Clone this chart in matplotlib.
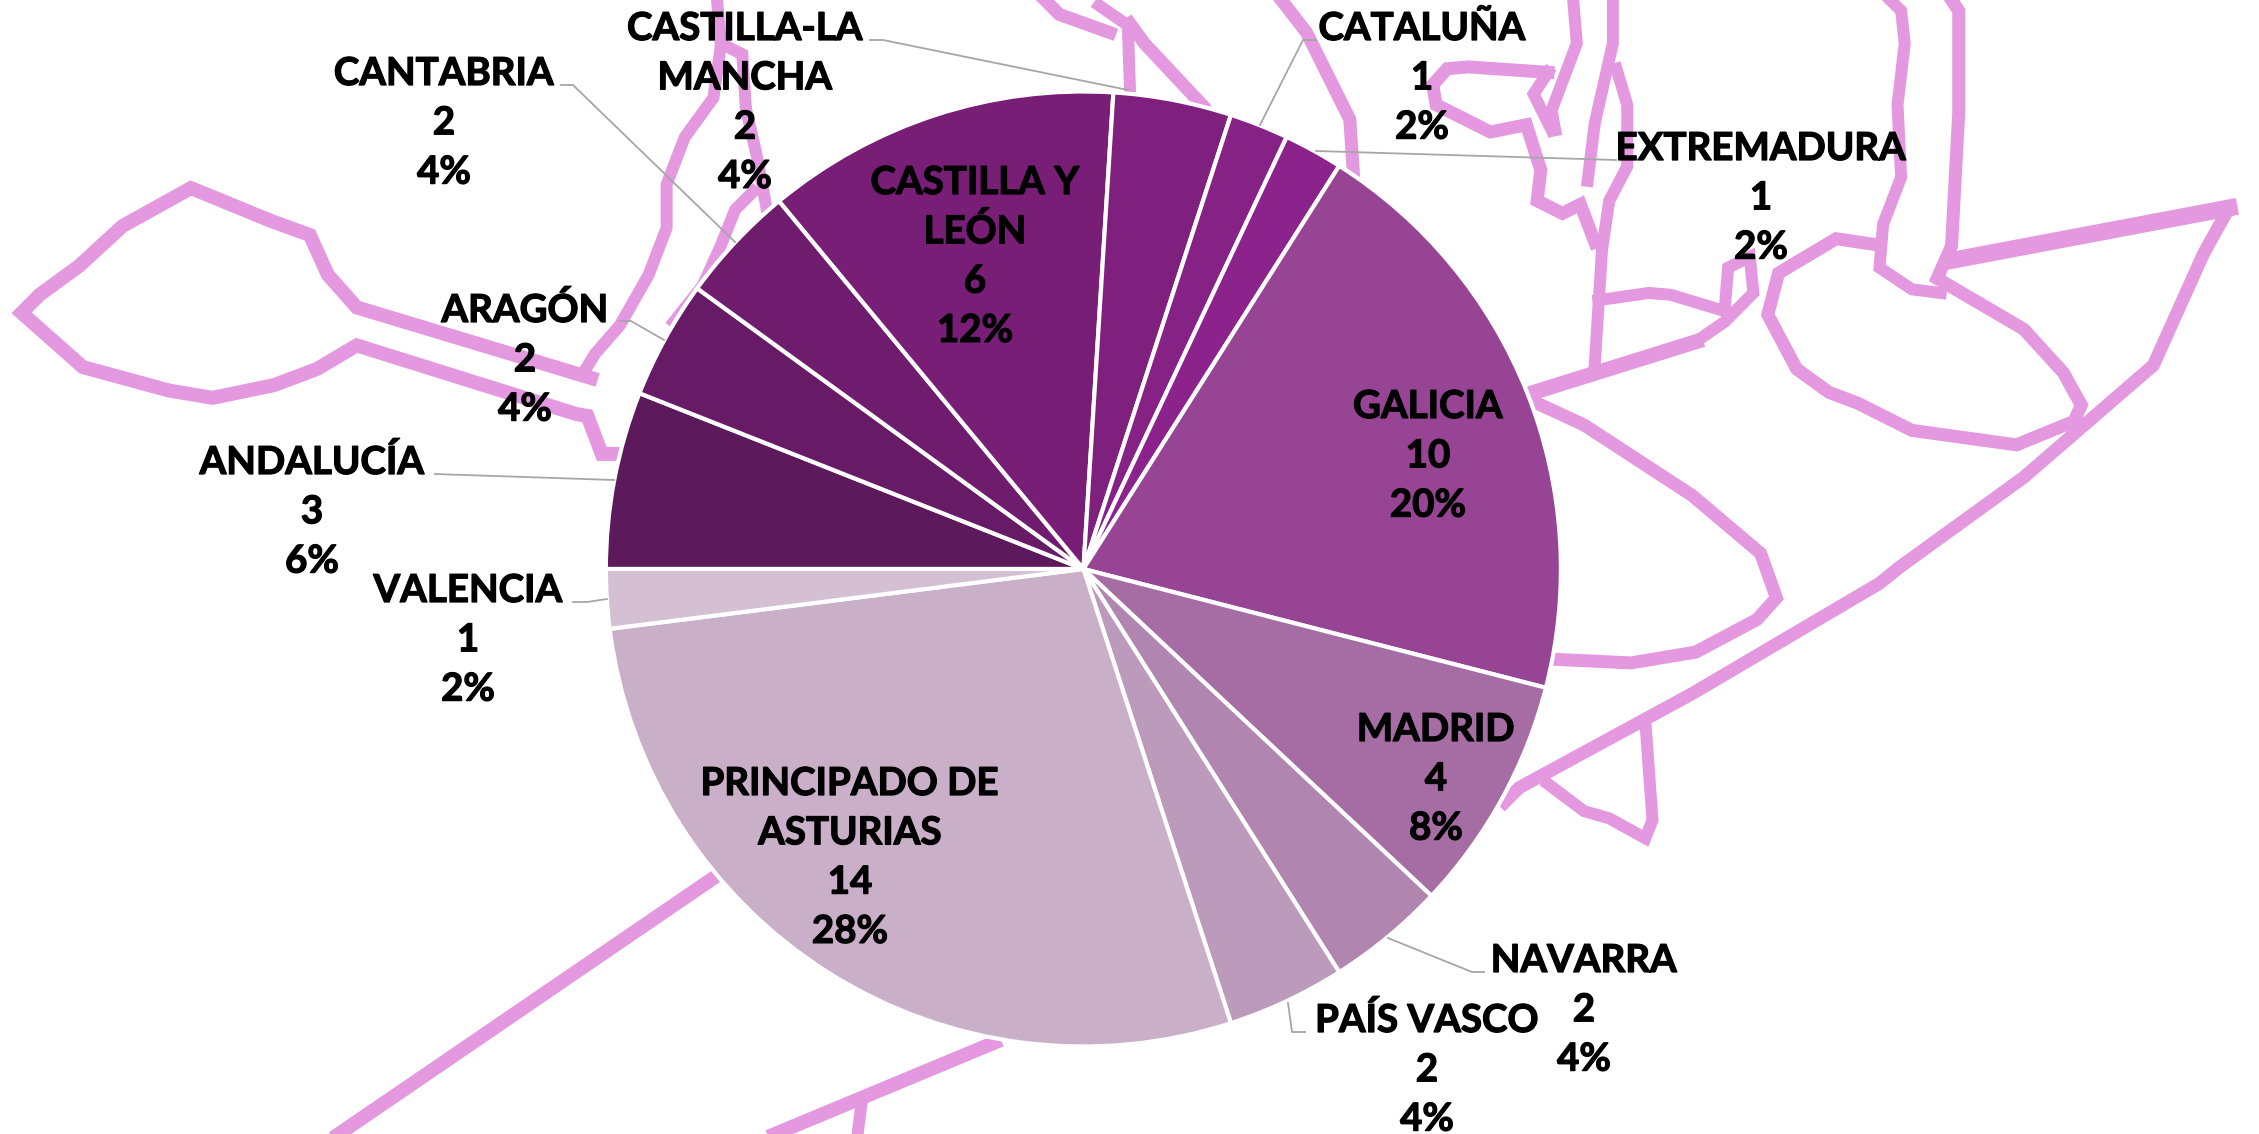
import matplotlib
from matplotlib import patheffects
from matplotlib import pyplot as plt

matplotlib.use('Agg')

W, H = 2259, 1134

# Chart data
regions = [['ANDALUCÍA'], ['ARAGÓN'], ['CANTABRIA'], ['CASTILLA Y', 'LEÓN'],
           ['CASTILLA-LA', 'MANCHA'], ['CATALUÑA'], ['EXTREMADURA'], ['GALICIA'],
           ['MADRID'], ['NAVARRA'], ['PAÍS VASCO'], ['PRINCIPADO DE', 'ASTURIAS'],
           ['VALENCIA']]
counts = [3, 2, 2, 6, 2, 1, 1, 10, 4, 2, 2, 14, 1]
colors = ['#5C195B', '#671A66', '#6F1C6E', '#781E77', '#7F1F7E', '#862186', '#8C238C',
          '#974495', '#A66DA4', '#B085AF', '#BC9ABB', '#C9AFC8', '#D4BFD3']

# Label anchors: centre x, first baseline (image pixels)
label_pos = [(312, 474), (525, 322), (444, 85), (975, 194), (745, 40), (1422, 40), (1761, 160),
             (1428, 418), (1436, 741), (1584, 972), (1427, 1032), (850, 795), (468, 602)]
line_step = 49.3

# Leader lines (image pixels)
leaders = [[(435, 474), (614, 480)],
           [(620, 321), (631, 321), (664, 340)],
           [(561, 85), (573, 85), (735, 242)],
           [(870, 40), (883, 40), (1128, 90)],
           [(1316, 40), (1303, 40), (1260, 125)],
           [(1616, 160), (1316, 151)],
           [(1484, 972), (1472, 972), (1388, 938)],
           [(1305, 1032), (1292, 1032), (1288, 1003)],
           [(573, 602), (587, 602), (607, 599)]]

# Background map outline, in zoomed crop coordinates: (x0, y0, width, points)
map_paths = [
    (0, 0, 14, [(820, 1045), (495, 850), (455, 760), (430, 650), (375, 610), (265, 520), (170, 625),
                (110, 735), (55, 815), (30, 865), (115, 1015), (235, 1080), (295, 1100), (380, 1065),
                (440, 1020), (495, 955), (800, 1145), (815, 1150), (835, 1255), (870, 1255)]),
    (0, 0, 12, [(995, 0), (1000, 120), (1030, 150), (1035, 300), (1050, 430), (1065, 590)]),
    (0, 0, 12, [(1000, 130), (990, 270), (950, 380), (925, 510), (925, 630), (900, 760), (860, 900),
                (825, 980), (810, 1030)]),
    (0, 0, 12, [(1045, 530), (1020, 580), (1000, 680), (975, 790), (935, 890)]),
    (0, 0, 13, [(1450, 0), (1470, 40), (1540, 90)]),
    (0, 0, 12, [(1525, 15), (1565, 70), (1568, 250)]),
    (1130, 0, 13, [(0, 65), (20, 120), (100, 290)]),
    (1130, 0, 13, [(210, 0), (245, 90), (305, 330), (310, 480)]),
    (1130, 0, 12, [(615, 0), (620, 120), (585, 305), (590, 360)]),
    (1130, 0, 13, [(580, 200), (470, 185), (440, 190), (420, 235), (425, 290), (500, 365), (550, 345),
                   (570, 470), (565, 555), (600, 590), (625, 565), (645, 670)]),
    (1130, 0, 12, [(580, 200), (560, 260), (585, 360)]),
    (1130, 0, 12, [(670, 0), (670, 120), (645, 340), (635, 500)]),
    (1130, 0, 12, [(675, 190), (690, 290), (690, 460), (665, 555), (655, 690), (645, 1005)]),
    (1130, 0, 12, [(650, 830), (720, 810), (750, 815), (825, 860), (830, 740), (860, 710), (865, 810),
                   (825, 890), (785, 945)]),
    (1130, 0, 15, [(785, 945), (560, 1085)]),
    (1130, 0, 13, [(565, 1115), (630, 1175), (780, 1370), (875, 1530), (897, 1653), (870, 1713),
                   (785, 1803), (695, 1833), (590, 1823)]),
    (1130, 0, 12, [(1055, 0), (1070, 30), (1075, 120), (1065, 290), (1070, 490), (1045, 620), (1040, 740),
                   (1085, 800), (1125, 810)]),
    (1130, 0, 13, [(1140, 0), (1150, 30), (1150, 310), (1140, 680), (1120, 770), (1240, 910), (1295, 1030),
                   (1320, 1120), (1310, 1165), (1230, 1230), (1085, 1190), (1010, 1115), (970, 1085),
                   (925, 1020), (885, 870), (900, 755), (980, 660), (1030, 675)]),
    (1130, 0, 17, [(1140, 720), (1525, 575)]),
    (1130, 0, 13, [(1525, 575), (1490, 700), (1420, 1010), (1240, 1320), (1068, 1568), (1040, 1613),
                   (780, 1918), (540, 2178), (520, 2218)]),
    (1130, 567, 12, [(715, 425), (725, 700), (715, 750), (665, 695), (630, 675), (580, 600)]),
    (0, 567, 14, [(990, 860), (470, 1568)]),
    (0, 567, 14, [(1380, 1315), (1075, 1568)]),
    (0, 567, 12, [(1195, 1490), (1190, 1568)]),
]


def flip(y):
    return H - y


fig = plt.figure(figsize=(W / 100, H / 100), dpi=100)
ax = fig.add_axes([0, 0, 1, 1])

# Map outline sits under the pie
for x0, y0, width, pts in map_paths:
    xs = [x0 + p[0] / 1.3876 for p in pts]
    ys = [flip(y0 + p[1] / 2.765) for p in pts]
    ax.plot(xs, ys, color='#E398E0', lw=width * 0.72, solid_joinstyle='miter', zorder=1)

ax.pie(counts, colors=colors, startangle=180, counterclock=False, center=(1083.4, flip(569)),
       radius=477.5, frame=True, wedgeprops={'edgecolor': 'white', 'linewidth': 3, 'zorder': 2})

for pts in leaders:
    ax.plot([p[0] for p in pts], [flip(p[1]) for p in pts], color='#A6A6A6', lw=1.3, zorder=3)

# Slight stroke since the installed bold is lighter than the original face
bolder = [patheffects.withStroke(linewidth=0.9, foreground='black')]
total = sum(counts)
for name, count, (x, y) in zip(regions, counts, label_pos):
    lines = name + [str(count), f'{round(100 * count / total)}%']
    for i, line in enumerate(lines):
        ax.text(x, flip(y + i * line_step), line, ha='center', va='baseline', color='black',
                family='Lato', fontweight='bold', fontsize=27.7, path_effects=bolder, zorder=4)

ax.set_xlim(0, W)
ax.set_ylim(0, H)
ax.axis('off')

fig.savefig('out.png', dpi=100, facecolor='white')
plt.close(fig)
